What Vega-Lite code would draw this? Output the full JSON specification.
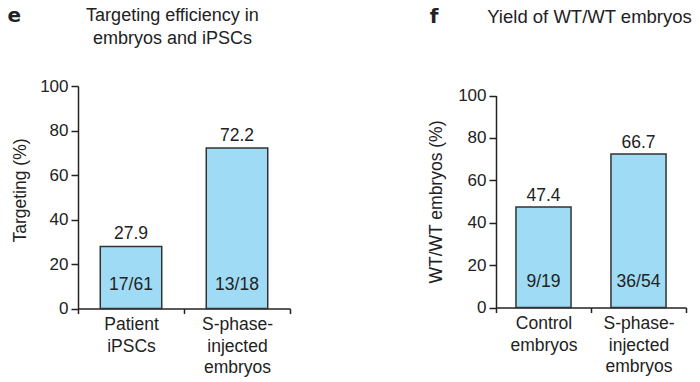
{
  "$schema": "https://vega.github.io/schema/vega-lite/v6.json",
  "background": "white",
  "padding": {"left": 7, "top": 5, "right": 0, "bottom": 0},
  "spacing": 136,
  "config": {
    "font": "Liberation Sans",
    "view": {"stroke": null},
    "axis": {
      "grid": false,
      "domainColor": "#222",
      "tickColor": "#222",
      "labelColor": "#222",
      "titleColor": "#222",
      "domainWidth": 1.5,
      "tickWidth": 1.5,
      "labelFont": "Liberation Sans",
      "titleFont": "Liberation Sans",
      "titleFontWeight": "normal"
    }
  },
  "hconcat": [
    {
      "width": 212,
      "height": 222.6,
      "data": {"values": [
        {"cat": "Patient|iPSCs", "pct": 27.9, "label": "27.9", "frac": "17/61"},
        {"cat": "S-phase-|injected|embryos", "pct": 72.2, "label": "72.2", "frac": "13/18"}
      ]},
      "layer": [
        {
          "mark": {"type": "bar", "fill": "#9fdbf5", "stroke": "#333", "strokeWidth": 1.5, "width": {"band": 0.58}},
          "encoding": {
            "x": {"field": "cat", "type": "nominal", "sort": null,
              "scale": {"paddingInner": 0, "paddingOuter": 0},
              "axis": {"orient": "bottom", "title": null, "labelAngle": 0, "labelExpr": "split(datum.label, '|')",
                "tickBand": "extent", "tickSize": 5, "labelFontSize": 17.5, "labelLineHeight": 21.5, "labelPadding": 2, "labelBaseline": "top"}},
            "y": {"field": "pct", "type": "quantitative", "scale": {"domain": [0, 100]},
              "axis": {"title": "Targeting (%)", "values": [0, 20, 40, 60, 80, 100], "tickSize": 7, "labelPadding": 3,
                "labelFontSize": 17, "titleFontSize": 17.5, "titlePadding": 10, "titleY": 104}}
          }
        },
        {
          "mark": {"type": "text", "baseline": "alphabetic", "dy": -7, "fontSize": 17.5, "color": "#222"},
          "encoding": {
            "x": {"field": "cat", "type": "nominal", "sort": null,
              "axis": {"orient": "top", "domain": false, "ticks": false, "labels": false,
                "title": ["Targeting efficiency in", "embryos and iPSCs"], "titleFontSize": 18, "titleLineHeight": 23,
                "titleX": 94, "titleY": -79.9, "titleAlign": "center", "titleBaseline": "top", "titleAngle": 0}},
            "y": {"field": "pct", "type": "quantitative", "axis": null},
            "text": {"field": "label"}
          }
        },
        {
          "mark": {"type": "text", "baseline": "alphabetic", "dy": -19, "fontSize": 17.5, "color": "#222"},
          "encoding": {
            "x": {"field": "cat", "type": "nominal", "sort": null, "axis": null},
            "y": {"datum": 0, "type": "quantitative",
              "axis": {"orient": "right", "domain": false, "ticks": false, "labels": false,
                "title": "e", "titleFont": "DejaVu Sans", "titleFontWeight": "bold", "titleFontSize": 20,
                "titleX": -283, "titleY": -80.5, "titleAlign": "left", "titleBaseline": "top", "titleAngle": 0}},
            "text": {"field": "frac"}
          }
        }
      ],
      "resolve": {"axis": {"x": "independent", "y": "independent"}}
    },
    {
      "width": 190,
      "height": 221.5,
      "data": {"values": [
        {"cat": "Control|embryos", "pct": 47.4, "label": "47.4", "frac": "9/19"},
        {"cat": "S-phase-|injected|embryos", "pct": 72.4, "label": "66.7", "frac": "36/54"}
      ]},
      "layer": [
        {
          "mark": {"type": "bar", "fill": "#9fdbf5", "stroke": "#333", "strokeWidth": 1.5, "width": {"band": 0.58}},
          "encoding": {
            "x": {"field": "cat", "type": "nominal", "sort": null,
              "scale": {"paddingInner": 0, "paddingOuter": 0},
              "axis": {"orient": "bottom", "title": null, "labelAngle": 0, "labelExpr": "split(datum.label, '|')",
                "tickBand": "extent", "tickSize": 5, "labelFontSize": 17.5, "labelLineHeight": 21.5, "labelPadding": 2, "labelBaseline": "top"}},
            "y": {"field": "pct", "type": "quantitative", "scale": {"domain": [0, 100], "range": [221.5, 9.5]},
              "axis": {"title": "WT/WT embryos (%)", "values": [0, 20, 40, 60, 80, 100], "tickSize": 7, "labelPadding": 3,
                "labelFontSize": 17, "titleFontSize": 17.5, "titlePadding": 12}}
          }
        },
        {
          "mark": {"type": "text", "baseline": "alphabetic", "dy": -6, "fontSize": 17.5, "color": "#222"},
          "encoding": {
            "x": {"field": "cat", "type": "nominal", "sort": null,
              "axis": {"orient": "top", "domain": false, "ticks": false, "labels": false,
                "title": "Yield of WT/WT embryos", "titleFontSize": 18.5,
                "titleX": 93, "titleY": -79, "titleAlign": "center", "titleBaseline": "top", "titleAngle": 0}},
            "y": {"field": "pct", "type": "quantitative", "axis": null},
            "text": {"field": "label"}
          }
        },
        {
          "mark": {"type": "text", "baseline": "alphabetic", "dy": -21, "fontSize": 17.5, "color": "#222"},
          "encoding": {
            "x": {"field": "cat", "type": "nominal", "sort": null, "axis": null},
            "y": {"datum": 0, "type": "quantitative",
              "axis": {"orient": "right", "domain": false, "ticks": false, "labels": false,
                "title": "f", "titleFont": "DejaVu Sans", "titleFontWeight": "bold", "titleFontSize": 20,
                "titleX": -256.7, "titleY": -79.8, "titleAlign": "left", "titleBaseline": "top", "titleAngle": 0}},
            "text": {"field": "frac"}
          }
        }
      ],
      "resolve": {"axis": {"x": "independent", "y": "independent"}}
    }
  ]
}
